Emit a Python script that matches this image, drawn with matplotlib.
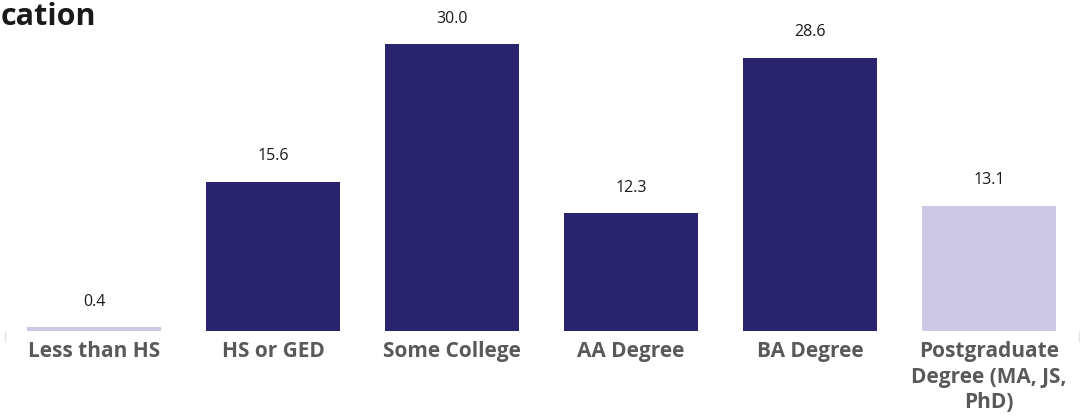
import matplotlib.pyplot as plt
import matplotlib.ticker as ticker

# Share of respondents by highest education level (%)
categories = ["Less than HS", "HS or GED", "Some College", "AA Degree",
              "BA Degree", "Postgraduate\nDegree (MA, JS,\nPhD)"]
values = [0.4, 15.6, 30.0, 12.3, 28.6, 13.1]
highlight = [False, True, True, True, True, False]

DARK = "#2A246E"
LIGHT = "#CCC8E5"

fig = plt.figure(figsize=(10.8, 4.19), dpi=100)
ax = fig.add_axes([4.5 / 1080, 88 / 419, 1074 / 1080, 325 / 419])

colors = [DARK if h else LIGHT for h in highlight]
x = range(len(categories))
bars = ax.bar(x, values, width=0.75, color=colors)

for rect, v in zip(bars, values):
    ax.annotate(f"{v:.1f}", (rect.get_x() + rect.get_width() / 2, v),
                xytext=(0, 15.5), textcoords="offset points",
                ha="center", va="baseline", fontsize=11.5, color="#1A1A1A",
                family="Open Sans")

ax.set_xlim(-0.5, 5.5)
ax.set_ylim(0, 34)
ax.set_xticks(list(x))
ax.set_xticklabels(categories, fontsize=15, fontweight="bold", color="#595959",
                   family="Open Sans", linespacing=1.3, va="top")
ax.tick_params(axis="x", length=0, pad=7)
ax.xaxis.set_minor_locator(ticker.FixedLocator([-0.5, 5.5]))
ax.tick_params(axis="x", which="minor", length=8, color="#E4E4E4", width=1)
ax.set_yticks([])
for side in ["top", "right", "left", "bottom"]:
    ax.spines[side].set_visible(False)

fig.text(1 / 1080, 1 - 2 / 419, "cation", ha="left", va="top",
         fontsize=22, fontweight="bold", color="#1A1A1A", family="Open Sans")

plt.savefig("out.png", dpi=100)
